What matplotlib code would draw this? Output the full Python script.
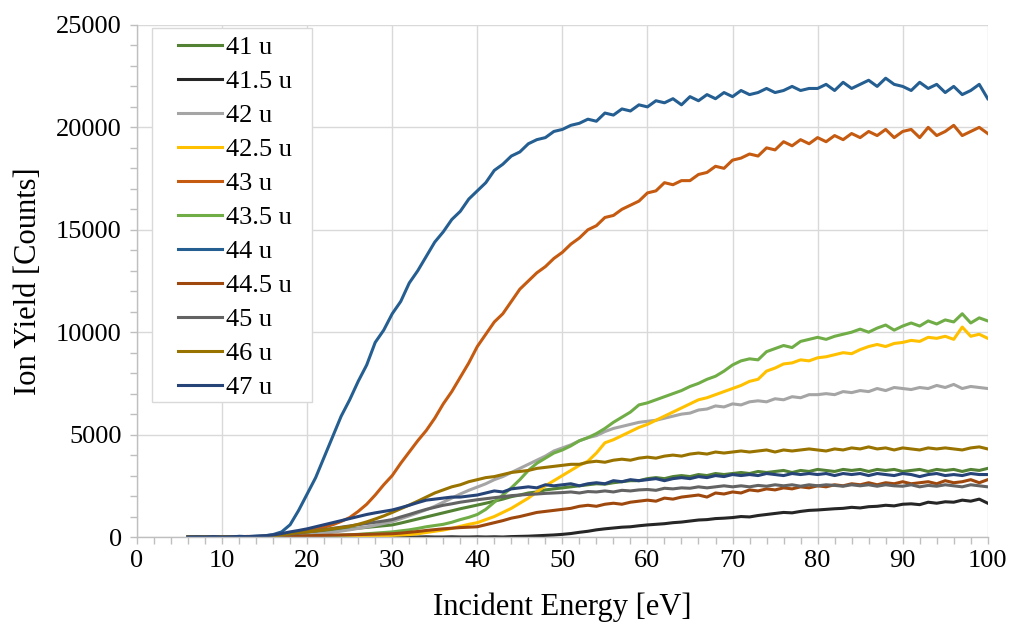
import numpy as np
import matplotlib
matplotlib.use("Agg")
import matplotlib.pyplot as plt
from matplotlib.ticker import MultipleLocator
from matplotlib.patches import Rectangle

plt.rcParams["font.family"] = ["Liberation Serif", "DejaVu Serif"]

# Incident electron energy grid [eV]
energy = np.arange(6, 101, 1)

# Ion yield [counts] per mass channel, one value per energy step (6 ... 100 eV)
y_41 = [0, 0, 10, 0, 0, 10, 0, 20, 10, 20,
        40, 70, 100, 140, 180, 220, 270, 310, 350, 390,
        430, 470, 510, 550, 590, 680, 780, 880, 980, 1080,
        1180, 1280, 1380, 1470, 1560, 1650, 1750, 1850, 1970, 2050,
        2150, 2200, 2300, 2350, 2400, 2450, 2500, 2550, 2600, 2580,
        2650, 2700, 2750, 2750, 2850, 2900, 2850, 2950, 3000, 2950,
        3050, 3000, 3100, 3050, 3100, 3150, 3100, 3200, 3150, 3200,
        3250, 3150, 3250, 3200, 3300, 3250, 3200, 3300, 3250, 3300,
        3200, 3300, 3250, 3300, 3200, 3250, 3300, 3200, 3300, 3250,
        3300, 3200, 3300, 3250, 3350]

y_415 = [0, 0, 0, 10, 0, 0, 0, 0, 10, 0,
         0, 0, 0, 10, 0, 0, 0, 0, 0, 10,
         0, 0, 0, 0, 10, 0, 0, 0, 10, 0,
         0, 10, 0, 0, 10, 0, 10, 0, 20,
         30, 40, 60, 80, 100, 130, 170, 230, 280, 350,
         400, 440, 480, 500, 550, 590, 620, 650, 700, 730,
         780, 830, 850, 900, 920, 950, 1000, 980, 1050, 1100,
         1150, 1200, 1180, 1250, 1300, 1320, 1350, 1380, 1400, 1450,
         1420, 1480, 1500, 1550, 1520, 1600, 1620, 1580, 1700, 1650,
         1720, 1700, 1800, 1750, 1850, 1650]

y_42 = [0, 0, 10, 0, 0, 10, 0, 10, 20, 20,
        30, 40, 60, 80, 100, 140, 180, 230, 290, 350,
        420, 490, 570, 660, 750, 890, 1030, 1180, 1330, 1500,
        1700, 1900, 2100, 2280, 2440, 2600, 2800, 2950, 3150, 3350,
        3550, 3750, 3950, 4200, 4350, 4500, 4700, 4850, 4950, 5150,
        5300, 5400, 5500, 5600, 5650, 5700, 5800, 5900, 6000, 6050,
        6200, 6250, 6400, 6350, 6500, 6450, 6600, 6650, 6600, 6750,
        6700, 6850, 6800, 6950, 6950, 7000, 6950, 7100, 7050, 7150,
        7100, 7250, 7150, 7300, 7250, 7200, 7300, 7250, 7400, 7300,
        7450, 7250, 7350, 7300, 7250]

y_425 = [0, 0, 0, 0, 10, 0, 0, 10, 0, 0,
         10, 0, 10, 20, 20, 30, 30, 40, 40, 50,
         50, 60, 60, 70, 80, 100, 120, 160, 220, 280,
         340, 420, 520, 620, 700, 850, 1000, 1200, 1400, 1650,
         1900, 2200, 2500, 2750, 3000, 3250, 3500, 3700, 4100, 4600,
         4750, 4950, 5150, 5350, 5500, 5700, 5900, 6100, 6300, 6500,
         6700, 6800, 6950, 7100, 7250, 7400, 7600, 7700, 8100, 8250,
         8450, 8500, 8650, 8600, 8750, 8800, 8900, 9000, 8950, 9150,
         9300, 9400, 9300, 9450, 9500, 9600, 9550, 9750, 9700, 9800,
         9650, 10250, 9800, 9900, 9700]

y_43 = [0, 0, 10, 0, 20, 0, 10, 30, 20, 40,
        60, 90, 140, 200, 280, 380, 480, 600, 760, 950,
        1250, 1600, 2050, 2550, 3000, 3600, 4150, 4700, 5200, 5800,
        6500, 7100, 7800, 8500, 9300, 9900, 10500, 10900, 11500, 12100,
        12500, 12900, 13200, 13600, 13900, 14300, 14600, 15000, 15200, 15600,
        15700, 16000, 16200, 16400, 16800, 16900, 17300, 17200, 17400, 17400,
        17700, 17800, 18100, 18000, 18400, 18500, 18700, 18600, 19000, 18900,
        19300, 19100, 19400, 19200, 19500, 19300, 19600, 19400, 19700, 19500,
        19800, 19600, 19900, 19500, 19800, 19900, 19500, 20000, 19600, 19800,
        20100, 19600, 19800, 20000, 19700]

y_435 = [0, 0, 0, 10, 0, 0, 10, 0, 10, 0,
         10, 20, 20, 30, 40, 50, 60, 70, 90, 110,
         130, 160, 190, 220, 250, 300, 350, 420, 500, 560,
         620, 720, 850, 960, 1100, 1350, 1700, 2050, 2400, 2800,
         3250, 3600, 3850, 4100, 4250, 4450, 4700, 4850, 5050, 5300,
         5600, 5850, 6100, 6450, 6550, 6700, 6850, 7000, 7150, 7350,
         7500, 7700, 7850, 8100, 8400, 8600, 8700, 8650, 9050, 9200,
         9350, 9250, 9550, 9650, 9750, 9650, 9800, 9900, 10000, 10150,
         10000, 10200, 10350, 10100, 10300, 10450, 10300, 10550, 10400, 10600,
         10500, 10900, 10450, 10700, 10550]

y_44 = [0, 10, 0, 20, 10, 0, 30, 20, 40, 60,
        120, 250, 600, 1300, 2100, 2900, 3900, 4900, 5900, 6700,
        7600, 8400, 9500, 10100, 10900, 11500, 12400, 13000, 13700, 14400,
        14900, 15500, 15900, 16500, 16900, 17300, 17900, 18200, 18600, 18800,
        19200, 19400, 19500, 19800, 19900, 20100, 20200, 20400, 20300, 20700,
        20600, 20900, 20800, 21100, 21000, 21300, 21200, 21400, 21100, 21500,
        21300, 21600, 21400, 21700, 21500, 21800, 21600, 21700, 21900, 21700,
        21800, 22000, 21800, 21900, 21900, 22100, 21800, 22200, 21900, 22100,
        22300, 22000, 22400, 22100, 22000, 21800, 22200, 21900, 22100, 21700,
        22000, 21600, 21800, 22100, 21400]

y_445 = [0, 0, 10, 0, 0, 10, 0, 10, 0, 10,
         20, 30, 40, 50, 60, 70, 80, 90, 100, 110,
         120, 130, 140, 150, 160, 190, 230, 270, 320, 360,
         400, 430, 460, 480, 500, 600, 700, 800, 920, 1000,
         1100, 1200, 1250, 1300, 1350, 1400, 1500, 1550, 1500, 1600,
         1650, 1600, 1700, 1750, 1800, 1750, 1900, 1850, 1950, 2000,
         2050, 1950, 2150, 2100, 2200, 2150, 2300, 2250, 2350, 2300,
         2400, 2350, 2450, 2400, 2500, 2450, 2550, 2500, 2600, 2550,
         2650, 2550, 2650, 2600, 2700, 2600, 2650, 2700, 2600, 2750,
         2650, 2700, 2800, 2650, 2800]

y_45 = [0, 10, 0, 0, 10, 0, 20, 10, 20, 30,
        50, 90, 140, 190, 250, 300, 360, 420, 480, 540,
        600, 660, 720, 780, 850, 980, 1100, 1230, 1350, 1450,
        1550, 1620, 1700, 1760, 1820, 1870, 1920, 1970, 2020, 2050,
        2080, 2100, 2130, 2150, 2170, 2200, 2150, 2220, 2200, 2250,
        2200, 2280, 2250, 2300, 2320, 2280, 2380, 2350, 2400, 2380,
        2450, 2400, 2450, 2500, 2450, 2500, 2450, 2520, 2480, 2550,
        2500, 2550, 2480, 2550, 2500, 2550, 2520, 2480, 2550, 2500,
        2550, 2480, 2550, 2500, 2480, 2550, 2450, 2520, 2480, 2550,
        2500, 2450, 2550, 2500, 2450]

y_46 = [0, 10, 0, 0, 10, 0, 20, 10, 20, 30,
        50, 100, 160, 220, 250, 300, 350, 410, 460, 520,
        620, 740, 880, 1030, 1200, 1380, 1560, 1750, 1950, 2150,
        2300, 2450, 2550, 2700, 2800, 2900, 2950, 3050, 3150, 3200,
        3250, 3350, 3400, 3450, 3500, 3550, 3550, 3650, 3700, 3650,
        3750, 3800, 3750, 3850, 3900, 3850, 3950, 4000, 3950, 4050,
        4100, 4050, 4150, 4100, 4150, 4200, 4150, 4200, 4250, 4150,
        4250, 4200, 4250, 4300, 4250, 4200, 4300, 4250, 4350, 4300,
        4400, 4300, 4350, 4250, 4350, 4300, 4250, 4350, 4300, 4350,
        4300, 4250, 4350, 4400, 4300]

y_47 = [0, 10, 0, 20, 0, 10, 30, 20, 40, 60,
        100, 170, 250, 320, 400, 500, 600, 700, 800, 900,
        1000, 1100, 1180, 1250, 1320, 1430, 1550, 1680, 1800, 1850,
        1900, 1950, 1950, 2000, 2050, 2150, 2250, 2200, 2350, 2400,
        2450, 2400, 2550, 2500, 2550, 2600, 2500, 2600, 2650, 2600,
        2750, 2700, 2800, 2750, 2800, 2850, 2750, 2850, 2900, 2850,
        2950, 2900, 3000, 2950, 3050, 3000, 3050, 3000, 3100, 3050,
        3000, 3100, 3050, 3100, 3050, 3100, 3000, 3100, 3050, 3100,
        3000, 3100, 3050, 3000, 3100, 3050, 2950, 3050, 3100, 3000,
        3050, 3000, 3100, 3050, 3050]

labels = ["41 u", "41.5 u", "42 u", "42.5 u", "43 u", "43.5 u",
          "44 u", "44.5 u", "45 u", "46 u", "47 u"]
series = [y_41, y_415, y_42, y_425, y_43, y_435,
          y_44, y_445, y_45, y_46, y_47]
colors = ["#548235", "#262626", "#A5A5A5", "#FFC000", "#C55A11", "#70AD47",
          "#255E91", "#9E480E", "#636363", "#997300", "#264478"]

fig = plt.figure(figsize=(10.11, 6.24), dpi=100)
ax = fig.add_axes([0.1355, 0.1394, 0.8415, 0.8206])

for y, lab, c in zip(series, labels, colors):
    ax.plot(energy, y, color=c, lw=2.2, label=lab, solid_joinstyle="round")

ax.set_xlim(0, 100)
ax.set_ylim(0, 25000)
ax.xaxis.set_major_locator(MultipleLocator(10))
ax.xaxis.set_minor_locator(MultipleLocator(2))
ax.yaxis.set_major_locator(MultipleLocator(5000))
ax.yaxis.set_minor_locator(MultipleLocator(1000))

grid_c = "#d9d9d9"
axis_c = "#bfbfbf"
ax.grid(True, which="major", color=grid_c, lw=1.0)
ax.set_axisbelow(True)
for side in ("top", "right"):
    ax.spines[side].set_visible(False)
for side in ("left", "bottom"):
    ax.spines[side].set_color(axis_c)
    ax.spines[side].set_linewidth(1.0)

ax.tick_params(which="both", direction="out", length=5, width=1.0,
               color=axis_c, labelsize=19, labelcolor="black")
ax.tick_params(axis="x", which="major", pad=4)
ax.tick_params(axis="y", which="major", pad=6)

ax.set_xlabel("Incident Energy [eV]", fontsize=22, labelpad=15)
ax.set_ylabel("Ion Yield [Counts]", fontsize=22, labelpad=9)

# Legend box drawn as its own patch so the padding can be set freely
legend_box = Rectangle((0.0176, 0.2637), 0.188, 0.7304, transform=ax.transAxes,
                       facecolor="white", edgecolor=grid_c, lw=1.0, zorder=4)
ax.add_patch(legend_box)
leg = ax.legend(loc="upper left", bbox_to_anchor=(0.0482, 0.979),
                borderaxespad=0, fontsize=19, frameon=False,
                handlelength=1.67, handletextpad=0.15, labelspacing=0.40,
                borderpad=0)
leg.set_zorder(5)

fig.savefig("out.png", dpi=100)
